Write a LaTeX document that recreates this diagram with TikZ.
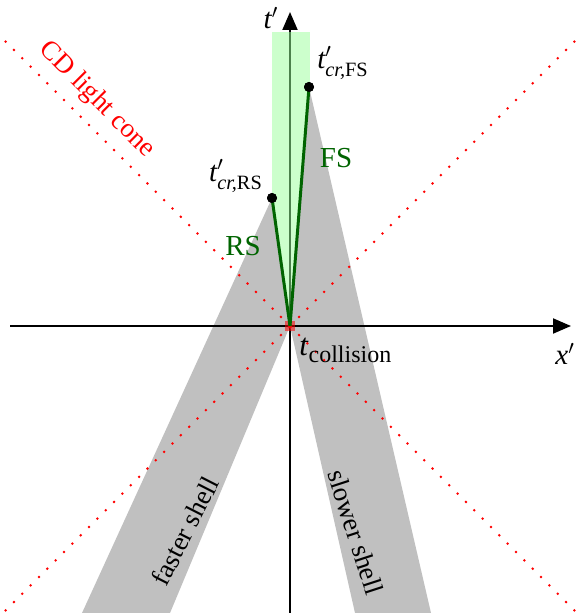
\documentclass[tikz,border=0pt]{standalone}
\usepackage{amsmath}
\usepackage{fontspec}
\setmainfont{Liberation Serif}
\usetikzlibrary{arrows.meta}
\definecolor{dgreen}{RGB}{0,100,0}
\definecolor{lgreen}{RGB}{153,255,153}
\definecolor{shellgray}{RGB}{192,192,192}
\begin{document}
\begin{tikzpicture}[x=0.5pt,y=-0.5pt, font=\rmfamily\fontsize{14.5}{17}\selectfont,
  axis/.style={line width=1pt,-{Triangle[length=9pt,width=7.5pt]}},
  shell/.style={fill=shellgray},
  cone/.style={red,line width=1pt,dash pattern=on 1pt off 4.9pt},
  wl/.style={dgreen,line width=1.5pt},
  dot/.style={circle,fill=black,inner sep=0,minimum size=5pt},
  lbl/.style={inner sep=0},
  rlbl/.style={inner sep=0,font=\rmfamily\fontsize{13.5}{16}\selectfont}]
\useasboundingbox (0,0) rectangle (577,613);
\coordinate (O) at (290,326);
\coordinate (yb) at (290,613);
\coordinate (yt) at (290,12);
\coordinate (xl) at (10,326);
\coordinate (xr) at (571,326);
% time axis (under the green band)
\draw[axis] (yb) -- (yt);
% green band
\fill[lgreen,opacity=0.5] (272,32) rectangle (310,326);
% shells
\fill[shell] (82,613) -- (170,613) -- (O) -- (272,198) -- cycle;
\fill[shell] (355,613) -- (431,613) -- (309,87) -- (O) -- cycle;
% space axis
\draw[axis] (xl) -- (xr);
% light cone
\begin{scope}
\clip (0,0) rectangle (577,613);
\coordinate (c1) at (-10,26);
\coordinate (c2) at (590,626);
\coordinate (c3) at (-10,626);
\coordinate (c4) at (590,26);
\draw[cone] (O) -- (c1);
\draw[cone] (O) -- (c2);
\draw[cone] (O) -- (c3);
\draw[cone] (O) -- (c4);
\end{scope}
\fill[red,opacity=0.55] (285,321) rectangle (295,331);
% world lines of the shocks
\node[dot] (rs) at (272,198) {};
\node[dot] (fs) at (309,87) {};
\draw[wl] (O) -- (rs.center);
\draw[wl] (O) -- (fs.center);
\node[dot] at (rs) {};
\node[dot] at (fs) {};
% labels
\node[lbl] (tp) at (271,18) {$\textit{t}'$};
\node[lbl,anchor=west] (xp) at (555,354) {$\textit{x}'$};
\node[lbl] (tfs) at (343,63) {$\textit{t}'_{\text{\itshape cr,\upshape FS}}$};
\node[lbl] (trs) at (236,176) {$\textit{t}'_{\text{\itshape cr,\upshape RS}}$};
\node[lbl,dgreen] (lfs) at (336,158) {FS};
\node[lbl,dgreen] (lrs) at (243,246) {RS};
\node[lbl,anchor=base west,font=\rmfamily\fontsize{15.5}{18}\selectfont] (tc) at (299,356)
  {\textit{t}\raisebox{-3pt}{\fontsize{12}{14}\selectfont collision}};
\node[rlbl,red,rotate=-45] (cd) at (97,100) {CD light cone};
\node[rlbl,rotate=63] (fsh) at (185,531) {faster shell};
\node[rlbl,rotate=-72] (ssh) at (356,532) {slower shell};
\end{tikzpicture}
\end{document}
